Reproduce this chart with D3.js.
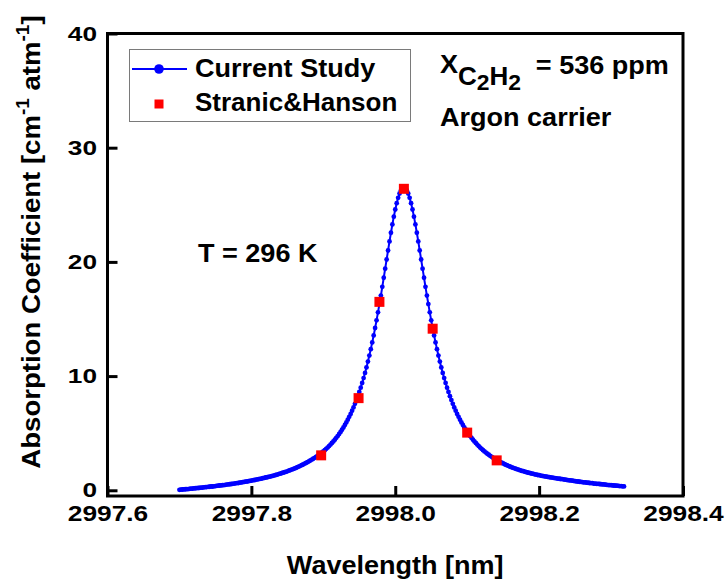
<!DOCTYPE html>
<html>
<head>
<meta charset="utf-8">
<script src="https://cdn.jsdelivr.net/npm/d3@7"></script>
<style>
  html, body { margin: 0; padding: 0; background: #fff; }
  svg { display: block; }
  text { font-family: "Liberation Sans", Arial, sans-serif; font-weight: bold; fill: #000; }
</style>
</head>
<body>
<script>
// ---------------- data ----------------
const wavelengthStart = 2997.700;   // nm, first sample of current study
const wavelengthStep = 0.002;       // nm, sample spacing of current study
const currentStudy = [
  0.04,0.05,0.07,0.08,0.09,0.10,0.11,0.13,0.14,0.15,
  0.16,0.18,0.19,0.20,0.21,0.23,0.24,0.26,0.27,0.28,
  0.30,0.31,0.33,0.33,0.35,0.37,0.39,0.40,0.42,0.43,
  0.45,0.46,0.48,0.50,0.52,0.53,0.55,0.57,0.59,0.61,
  0.63,0.64,0.67,0.69,0.71,0.73,0.76,0.77,0.80,0.82,
  0.85,0.87,0.90,0.92,0.95,0.97,1.00,1.02,1.06,1.08,
  1.12,1.14,1.18,1.20,1.24,1.27,1.31,1.34,1.38,1.42,
  1.46,1.49,1.54,1.58,1.62,1.66,1.72,1.76,1.81,1.86,
  1.91,1.96,2.02,2.08,2.14,2.20,2.26,2.33,2.40,2.46,
  2.54,
  2.61,2.69,2.76,2.84,2.93,3.02,3.11,3.20,3.30,3.40,
  3.51,3.63,3.74,3.87,4.00,4.14,4.28,4.43,4.59,4.75,
  4.93,5.11,5.30,5.50,5.72,5.94,6.18,6.43,6.69,6.97,
  7.26,7.57,7.90,8.24,8.61,8.99,9.40,9.83,10.28,10.76,
  11.27,11.80,12.36,12.95,13.56,14.21,14.88,15.58,16.31,17.05,
  17.82,18.61,19.41,20.21,21.00,21.79,22.55,23.28,23.96,24.59,
  25.14,25.61,25.99,26.27,26.44,26.50,
  26.44,26.27,25.99,25.61,25.14,24.59,23.96,23.28,22.55,21.79,
  21.00,20.21,19.41,18.61,17.82,17.05,16.31,15.58,14.88,14.21,
  13.56,12.95,12.36,11.80,11.27,10.76,10.28,9.83,9.40,8.99,
  8.61,8.24,7.90,7.57,7.26,6.97,6.69,6.43,6.18,5.94,
  5.72,5.50,5.30,5.11,4.93,4.75,4.59,4.43,4.28,4.14,
  4.00,3.87,3.74,3.63,3.51,3.40,3.30,3.20,3.11,3.02,
  2.93,2.84,2.76,2.69,2.61,2.54,2.47,2.41,2.35,2.28,
  2.23,2.17,2.12,2.06,2.01,1.96,1.92,1.87,1.83,1.79,
  1.74,1.70,1.67,1.63,1.59,1.56,1.53,1.49,1.46,1.43,
  1.40,1.37,1.34,1.32,1.29,1.27,1.24,1.22,1.19,1.17,
  1.15,1.13,1.11,1.09,1.07,1.05,1.03,1.01,0.99,0.98,
  0.96,0.93,0.92,0.89,0.87,0.86,0.84,0.82,0.80,0.78,
  0.77,0.75,0.74,0.71,0.70,0.69,0.67,0.66,0.64,0.63,
  0.62,0.59,0.58,0.57,0.56,0.55,0.53,0.52,0.51,0.49,
  0.48,0.46,0.46,0.45,0.43,0.42,0.40,0.40,0.39,0.37,
  0.37,0.35,0.34
];
const stranicWavelength = [2997.897, 2997.949, 2997.978, 2998.012, 2998.052, 2998.100, 2998.141];
const stranicValue      = [3.06, 8.07, 16.5, 26.4, 14.15, 5.05, 2.62];

const xTicks = [2997.6, 2997.8, 2998.0, 2998.2, 2998.4];
const yTicks = [0, 10, 20, 30, 40];
const xDomain = [2997.6, 2998.4];
const yDomain = [-0.5, 40];

const seriesNames = ["Current Study", "Stranic&Hanson"];
const xTitle = "Wavelength [nm]";

// ---------------- layout ----------------
const W = 726, H = 579;
const SX = 1.04;
const plot = { left: 107.5, right: 683, top: 33.5, bottom: 496 };

const svg = d3.select("body").append("svg").attr("width", W).attr("height", H);
svg.append("rect").attr("width", W).attr("height", H).attr("fill", "#fff");

const x = d3.scaleLinear().domain(xDomain).range([plot.left, plot.right]);
const y = d3.scaleLinear().domain(yDomain).range([plot.bottom, plot.top]);

function scaleText(sel, s) {
  sel.each(function () {
    const t = d3.select(this);
    const tx = +t.attr("x") || 0, ty = +t.attr("y") || 0;
    t.attr("x", 0).attr("y", 0).attr("transform", `translate(${tx},${ty}) scale(${s},1)`);
  });
}

// axes
const xAxis = d3.axisBottom(x).tickValues(xTicks).tickFormat(d3.format(".1f"))
  .tickSize(-10).tickPadding(9.5);
const gx = svg.append("g").attr("transform", `translate(0,${plot.bottom})`).call(xAxis);
gx.select(".domain").remove();
gx.selectAll(".tick line").attr("stroke", "#000").attr("stroke-width", 3);
gx.selectAll(".tick text").attr("font-size", 22.5).style("font-family", '"Liberation Sans", Arial, sans-serif').style("font-weight", "bold");
scaleText(gx.selectAll(".tick text"), 1.17);

const yAxis = d3.axisLeft(y).tickValues(yTicks).tickFormat(d3.format("d"))
  .tickSize(-10).tickPadding(10.5);
const gy = svg.append("g").attr("transform", `translate(${plot.left},0)`).call(yAxis);
gy.select(".domain").remove();
gy.selectAll(".tick line").attr("stroke", "#000").attr("stroke-width", 3);
gy.selectAll(".tick text").attr("font-size", 20.5).style("font-family", '"Liberation Sans", Arial, sans-serif').style("font-weight", "bold");
scaleText(gy.selectAll(".tick text"), 1.28);

// frame
svg.append("rect")
  .attr("x", plot.left).attr("y", plot.top)
  .attr("width", plot.right - plot.left).attr("height", plot.bottom - plot.top)
  .attr("fill", "none").attr("stroke", "#000").attr("stroke-width", 3);

// current study
const pts = currentStudy.map((v, i) => ({ wl: wavelengthStart + i * wavelengthStep, v }));
svg.append("path").datum(pts)
  .attr("fill", "none").attr("stroke", "#0000ff").attr("stroke-width", 2)
  .attr("d", d3.line().x(d => x(d.wl)).y(d => y(d.v)));
svg.append("g").selectAll("circle").data(pts).join("circle")
  .attr("cx", d => x(d.wl)).attr("cy", d => y(d.v)).attr("r", 2.4).attr("fill", "#0000ff");

// Stranic & Hanson
const sq = 10;
svg.append("g").selectAll("rect").data(stranicWavelength).join("rect")
  .attr("x", (d) => x(d) - sq / 2).attr("y", (d, i) => y(stranicValue[i]) - sq / 2)
  .attr("width", sq).attr("height", sq).attr("fill", "#ff0000");

// legend
const lg = svg.append("g");
lg.append("rect").attr("x", 129.5).attr("y", 49.5).attr("width", 281).attr("height", 72)
  .attr("fill", "#fff").attr("stroke", "#7a7a7a").attr("stroke-width", 1);
lg.append("line").attr("x1", 132).attr("x2", 187).attr("y1", 69).attr("y2", 69)
  .attr("stroke", "#0000ff").attr("stroke-width", 2);
lg.append("circle").attr("cx", 159).attr("cy", 69).attr("r", 4.8).attr("fill", "#0000ff");
lg.append("rect").attr("x", 159 - 4.5).attr("y", 104 - 4.5).attr("width", 9).attr("height", 9).attr("fill", "#ff0000");

function label(x0, y0, str, size, anchor, s) {
  return svg.append("text").attr("transform", `translate(${x0},${y0}) scale(${s || SX},1)`)
    .attr("font-size", size).attr("text-anchor", anchor || "start").text(str);
}
label(195, 77, seriesNames[0], 26);
label(195, 111, seriesNames[1], 26, "start", 1.0);

// annotations
const ann = svg.append("text").attr("transform", `translate(440,73) scale(${SX},1)`).attr("font-size", 26);
ann.append("tspan").text("X");
ann.append("tspan").attr("font-size", 25).attr("dy", 12).text("C");
ann.append("tspan").attr("font-size", 22).attr("dy", 5).text("2");
ann.append("tspan").attr("font-size", 25).attr("dy", -5).text("H");
ann.append("tspan").attr("font-size", 22).attr("dy", 5).text("2");
ann.append("tspan").attr("font-size", 26).attr("dy", -16).attr("dx", 7).text(" = 536 ppm");

label(440, 126, "Argon carrier", 26);
label(198, 262, "T = 296 K", 26);

// axis titles
label((plot.left + plot.right) / 2, 574, xTitle, 26, "middle");

const yt = svg.append("text")
  .attr("transform", `translate(40,242) rotate(-90) scale(1.06,1)`)
  .attr("font-size", 26).attr("text-anchor", "middle");
yt.append("tspan").text("Absorption Coefficient [cm");
yt.append("tspan").attr("font-size", 18).attr("dy", -11).text("-1");
yt.append("tspan").attr("dy", 11).text(" atm");
yt.append("tspan").attr("font-size", 18).attr("dy", -11).text("-1");
yt.append("tspan").attr("dy", 11).text("]");
</script>
</body>
</html>
